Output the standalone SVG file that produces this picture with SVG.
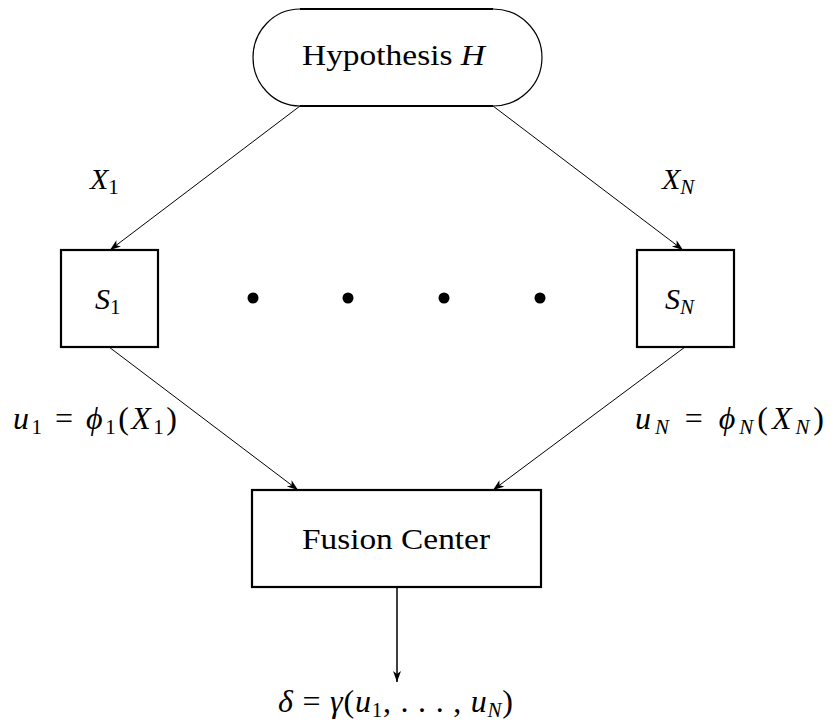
<svg xmlns="http://www.w3.org/2000/svg" width="833" height="728" viewBox="0 0 833 728">
<defs>
<style>
text{font-family:'Liberation Serif','Times New Roman',Tinos,'DejaVu Serif',serif;font-size:30px;fill:#000}
.big{font-size:32px}
.m{font-style:italic}
.sub{font-size:21px;font-style:normal}
.subi{font-size:21px;font-style:italic}
.box{fill:#fff;stroke:#000;stroke-width:2.2}
.edge{fill:none;stroke:#000;stroke-width:1}
.dot{fill:#000}
</style>
<marker id="ah" markerUnits="userSpaceOnUse" markerWidth="12" markerHeight="10" refX="11" refY="4" orient="auto">
<path d="M0,0 L11,4 L0,8 L3,4 Z" fill="#000"/>
</marker>
</defs>
<rect width="833" height="728" fill="#fff"/>

<g id="connectors">
<line class="edge" x1="300" y1="106" x2="110" y2="250" marker-end="url(#ah)"/>
<line class="edge" x1="493" y1="106" x2="683" y2="250" marker-end="url(#ah)"/>
<line class="edge" x1="109" y1="347" x2="298" y2="490" marker-end="url(#ah)"/>
<line class="edge" x1="685" y1="347" x2="493" y2="490" marker-end="url(#ah)"/>
<line class="edge" style="stroke-width:1.5" x1="397" y1="587" x2="397" y2="682" marker-end="url(#ah)"/>
</g>

<g id="hypothesis">
<path d="M300,9 A47,48.5 0 0 0 300,106 M493,9 A49,48.5 0 0 1 493,106" fill="none" stroke="#000" stroke-width="1.2"/>
<path d="M300,9 H493 M300,106 H493" fill="none" stroke="#000" stroke-width="2.2"/>
<text x="302" y="65" textLength="183" lengthAdjust="spacingAndGlyphs">Hypothesis <tspan class="m">H</tspan></text>
</g>

<g id="s1">
<rect class="box" x="61" y="250" width="97" height="97"/>
<text x="95" y="309"><tspan class="m">S</tspan><tspan class="sub" dy="5">1</tspan></text>
</g>

<g id="sN">
<rect class="box" x="637" y="250" width="97" height="97"/>
<text x="665" y="309"><tspan class="m">S</tspan><tspan class="subi" dy="5">N</tspan></text>
</g>

<g id="dots">
<circle class="dot" cx="253" cy="298" r="5.5"/>
<circle class="dot" cx="348" cy="298" r="5.5"/>
<circle class="dot" cx="444" cy="298" r="5.5"/>
<circle class="dot" cx="540" cy="298" r="5.5"/>
</g>

<g id="fusion">
<rect class="box" x="252" y="490" width="289" height="97"/>
<text x="302" y="549" textLength="188" lengthAdjust="spacingAndGlyphs">Fusion Center</text>
</g>

<g id="labels">
<text x="90" y="189"><tspan class="m">X</tspan><tspan class="sub" dy="5">1</tspan></text>
<text x="662" y="189"><tspan class="m">X</tspan><tspan class="subi" dy="5">N</tspan></text>
<text class="big" x="13" y="429" textLength="164" lengthAdjust="spacing"><tspan class="m">u</tspan><tspan class="sub" dy="5">1</tspan><tspan dy="-5"> = </tspan><tspan class="m">ϕ</tspan><tspan class="sub" dy="5">1</tspan><tspan dy="-5">(</tspan><tspan class="m">X</tspan><tspan class="sub" dy="5">1</tspan><tspan dy="-5">)</tspan></text>
<text class="big" x="635" y="429" textLength="189" lengthAdjust="spacing"><tspan class="m">u</tspan><tspan class="subi" dy="5">N</tspan><tspan dy="-5"> = </tspan><tspan class="m">ϕ</tspan><tspan class="subi" dy="5">N</tspan><tspan dy="-5">(</tspan><tspan class="m">X</tspan><tspan class="subi" dy="5">N</tspan><tspan dy="-5">)</tspan></text>
<text class="big" x="278" y="712" textLength="235" lengthAdjust="spacing"><tspan class="m">δ</tspan> = <tspan class="m">γ</tspan>(<tspan class="m">u</tspan><tspan class="sub" dy="5">1</tspan><tspan dy="-5">, . . . , </tspan><tspan class="m">u</tspan><tspan class="subi" dy="5">N</tspan><tspan dy="-5">)</tspan></text>
</g>
</svg>
